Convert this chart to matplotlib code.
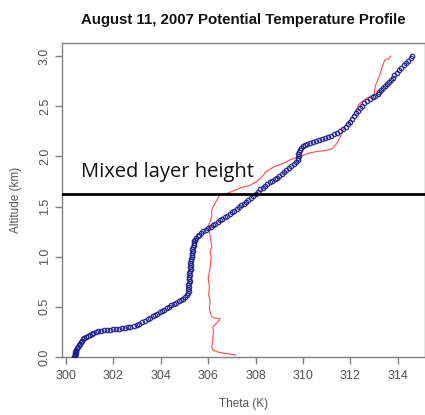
import matplotlib
matplotlib.use("Agg")
import matplotlib.pyplot as plt

title = "August 11, 2007 Potential Temperature Profile"
x_label = "Theta (K)"
y_label = "Altitude (km)"
x_ticks = [300, 302, 304, 306, 308, 310, 312, 314]
y_ticks = [0.0, 0.5, 1.0, 1.5, 2.0, 2.5, 3.0]
mixed_layer_height = 1.63
mixed_label = "Mixed layer height"

# Blue (open circles) profile
blue_theta = [
    300.35, 300.40, 300.38, 300.36, 300.42, 300.40, 300.44, 300.41, 300.47, 300.50,
    300.53, 300.58, 300.62, 300.66, 300.72, 300.78, 300.85, 300.92, 301.00, 301.08,
    301.16, 301.25,
    301.35, 301.48, 301.60, 301.72, 301.85, 301.98, 302.10, 302.22, 302.35, 302.48,
    302.60, 302.72, 302.85,
    302.98, 303.10, 303.22, 303.35, 303.45, 303.55, 303.65, 303.75, 303.85, 303.95,
    304.05, 304.15, 304.25, 304.35, 304.45, 304.55, 304.65, 304.75, 304.85, 304.95,
    305.03, 305.10, 305.15,
    305.18, 305.15, 305.20, 305.16, 305.19, 305.22, 305.17, 305.21, 305.24, 305.20,
    305.23, 305.26, 305.22, 305.27, 305.25, 305.29, 305.28, 305.31, 305.30, 305.33,
    305.35, 305.33, 305.37, 305.38, 305.40, 305.42, 305.44,
    305.48, 305.55, 305.62, 305.70, 305.80, 305.90, 306.00, 306.10,
    306.20, 306.30, 306.40, 306.50, 306.60, 306.70, 306.80, 306.90, 307.00, 307.10,
    307.20, 307.30, 307.40, 307.50, 307.60, 307.70, 307.80, 307.90, 308.00, 308.10,
    308.20, 308.30, 308.40, 308.50, 308.60, 308.70, 308.80, 308.90, 309.00, 309.10,
    309.20, 309.30, 309.40, 309.50, 309.60, 309.70, 309.78,
    309.80, 309.82, 309.80, 309.84, 309.86, 309.90,
    309.98, 310.08, 310.18, 310.30, 310.42, 310.55, 310.68, 310.80, 310.92, 311.05,
    311.18, 311.30,
    311.42, 311.55, 311.68, 311.80, 311.90, 312.00, 312.08, 312.16, 312.24, 312.32,
    312.40, 312.48, 312.58,
    312.70, 312.82, 312.95, 313.05, 313.15, 313.22, 313.30, 313.38, 313.46, 313.54,
    313.62, 313.70, 313.78, 313.86, 313.95, 314.05, 314.15, 314.25, 314.35, 314.45,
    314.55, 314.62]
blue_alt = [
    0.00, 0.01, 0.02, 0.03, 0.04, 0.05, 0.06, 0.07, 0.09, 0.10,
    0.12, 0.13, 0.15, 0.16, 0.18, 0.19, 0.20, 0.21, 0.22, 0.23,
    0.24, 0.25,
    0.255, 0.26, 0.265, 0.27, 0.27, 0.275, 0.28, 0.28, 0.285, 0.29,
    0.295, 0.30, 0.31,
    0.32, 0.33, 0.345, 0.36, 0.38, 0.39, 0.41, 0.42, 0.43, 0.45,
    0.46, 0.47, 0.49, 0.50, 0.52, 0.53, 0.54, 0.56, 0.57, 0.58,
    0.60, 0.62, 0.64,
    0.66, 0.68, 0.70, 0.72, 0.74, 0.76, 0.78, 0.80, 0.82, 0.84,
    0.86, 0.88, 0.90, 0.92, 0.94, 0.96, 0.98, 1.00, 1.02, 1.04,
    1.06, 1.08, 1.10, 1.12, 1.14, 1.16, 1.17,
    1.19, 1.21, 1.22, 1.24, 1.26, 1.27, 1.29, 1.30,
    1.32, 1.33, 1.35, 1.37, 1.38, 1.40, 1.41, 1.43, 1.45, 1.46,
    1.48, 1.50, 1.52, 1.53, 1.55, 1.57, 1.59, 1.61, 1.63, 1.65,
    1.67, 1.68, 1.70, 1.72, 1.74, 1.75, 1.77, 1.78, 1.80, 1.82,
    1.84, 1.86, 1.88, 1.90, 1.92, 1.94, 1.96,
    1.98, 2.00, 2.02, 2.04, 2.06, 2.08,
    2.10, 2.11, 2.12, 2.13, 2.14, 2.15, 2.16, 2.17, 2.18, 2.19,
    2.20, 2.22,
    2.23, 2.25, 2.27, 2.29, 2.32, 2.34, 2.37, 2.40, 2.43, 2.45,
    2.48, 2.50, 2.53,
    2.55, 2.57, 2.59, 2.60, 2.62, 2.64, 2.66, 2.68, 2.70, 2.72,
    2.74, 2.76, 2.78, 2.81, 2.83, 2.86, 2.88, 2.91, 2.93, 2.95,
    2.98, 3.00]

# Red line profile
red_theta = [307.15, 306.90, 306.60, 306.40, 306.20, 306.15, 306.18, 306.20, 306.22, 306.20,
             306.45, 306.50, 306.25, 306.15, 306.10, 306.05, 306.08, 306.02, 306.05, 306.00,
             306.05, 306.10, 306.12, 306.08, 306.15, 306.10, 306.05, 306.00, 306.08, 306.15,
             306.15, 306.35, 306.50, 306.85, 307.10, 307.40, 307.75, 308.05, 308.25, 308.45,
             308.80, 309.15, 309.50, 309.87, 310.20, 310.60, 311.00, 311.25, 311.40, 311.55,
             311.65, 311.75, 311.95, 312.10, 312.25, 312.40, 312.70, 313.00, 313.05, 313.15,
             313.25, 313.35, 313.45, 313.60, 313.70]
red_alt = [0.02, 0.03, 0.04, 0.05, 0.07, 0.10, 0.15, 0.20, 0.25, 0.30,
           0.36, 0.38, 0.39, 0.40, 0.44, 0.48, 0.55, 0.62, 0.70, 0.78,
           0.85, 0.92, 1.00, 1.05, 1.10, 1.18, 1.25, 1.30, 1.35, 1.40,
           1.47, 1.56, 1.62, 1.635, 1.66, 1.69, 1.71, 1.75, 1.79, 1.85,
           1.90, 1.93, 1.97, 2.00, 2.03, 2.05, 2.06, 2.08, 2.12, 2.18,
           2.24, 2.30, 2.35, 2.40, 2.47, 2.53, 2.58, 2.62, 2.70, 2.76,
           2.82, 2.90, 2.96, 2.97, 3.00]

plt.rcParams['font.family'] = ['Liberation Sans', 'DejaVu Sans']

fig = plt.figure(figsize=(4.25, 4.15), dpi=100)
W, H = 425, 415
ax = fig.add_axes([62 / W, (H - 357) / H, (W - 62) / W, (357 - 43) / H])

ax.plot(red_theta, red_alt, color='#ff4a4a', lw=0.8, zorder=2)
ax.plot(blue_theta, blue_alt, linestyle='none', marker='o', markersize=3.2,
        markerfacecolor='none', markeredgecolor='#1c1c8a', markeredgewidth=0.9,
        alpha=0.9, zorder=3)

ax.axhline(mixed_layer_height, color='black', lw=2.0, zorder=4)
ax.text(300.65, 1.79, mixed_label, fontsize=14.5, family=['Open Sans', 'DejaVu Sans'],
        color='#111111', va='baseline', ha='left')

ax.set_xlim(300 - 4 / 23.7, 300 + (W - 66) / 23.7)
ax.set_ylim(0, (357 - 43) / 100.3)
ax.set_xticks(x_ticks)
ax.set_yticks(y_ticks)
ax.set_xticklabels([str(t) for t in x_ticks])
ax.set_yticklabels([f"{t:.1f}" for t in y_ticks], rotation=90, va='center')

for s in ax.spines.values():
    s.set_color('#808080')
    s.set_linewidth(1.0)
ax.tick_params(axis='both', colors='#808080', labelcolor='#555555', length=5, width=1.0,
               labelsize=9, direction='out')
ax.tick_params(axis='x', pad=4)
ax.tick_params(axis='y', pad=3)

ax.set_xlabel(x_label, fontsize=8.5, color='#555555', labelpad=12)
ax.set_ylabel(y_label, fontsize=8.5, color='#555555', labelpad=12)
ax.set_title(title, fontsize=10.8, fontweight='bold', color='#111111', pad=14)

fig.savefig("out.png", dpi=100)
